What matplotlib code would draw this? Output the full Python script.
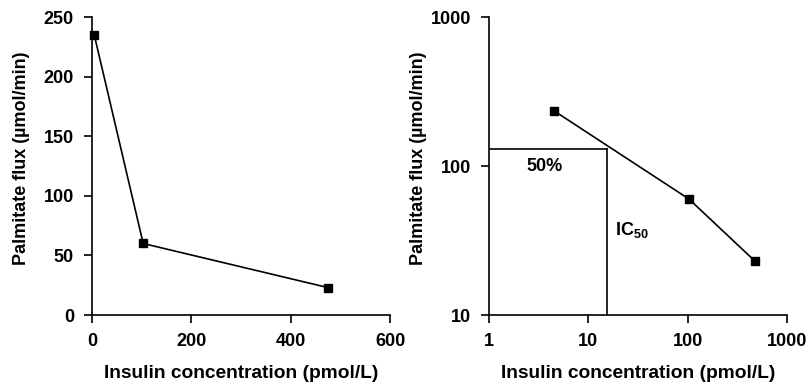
import numpy as np
import matplotlib.pyplot as plt
from matplotlib.ticker import NullLocator, FixedLocator, FixedFormatter

plt.rcParams["font.family"] = ["Liberation Sans", "DejaVu Sans"]
plt.rcParams["font.weight"] = "bold"
plt.rcParams["mathtext.fontset"] = "custom"
plt.rcParams["mathtext.rm"] = "Liberation Sans"
plt.rcParams["mathtext.bf"] = "Liberation Sans:bold"

insulin = [4.5, 103, 475]
flux = [235, 60, 23]
ic50_x = 15.4
half_flux = 130

fs = 13

fig = plt.figure(figsize=(8.1, 3.9), dpi=100)
ax1 = fig.add_axes([0.1136, 0.1923, 0.368, 0.764])
ax2 = fig.add_axes([0.6037, 0.1923, 0.368, 0.764])

for ax in (ax1, ax2):
    ax.spines["top"].set_visible(False)
    ax.spines["right"].set_visible(False)
    ax.spines["left"].set_linewidth(1.2)
    ax.spines["bottom"].set_linewidth(1.2)
    ax.tick_params(direction="out", length=6, width=1.2, labelsize=fs, pad=7)
    ax.plot(insulin, flux, color="black", lw=1.2, marker="s", ms=5.5, clip_on=False)
    ax.set_xlabel("Insulin concentration (pmol/L)", fontsize=13.8, fontweight="bold")
    ax.set_ylabel("Palmitate flux (\u00b5mol/min)", fontsize=fs, fontweight="bold")
    ax.xaxis.label.set_va("center")
    ax.yaxis.label.set_va("center")
    ax.xaxis.set_label_coords(0.5, -0.195)
    ax.yaxis.set_label_coords(-0.235, 0.527)

ax1.set_xlim(0, 600)
ax1.set_ylim(0, 250)
ax1.set_xticks([0, 200, 400, 600])
ax1.set_yticks([0, 50, 100, 150, 200, 250])

ax2.set_xscale("log")
ax2.set_yscale("log")
ax2.set_xlim(1, 1000)
ax2.set_ylim(10, 1000)
ax2.xaxis.set_major_locator(FixedLocator([1, 10, 100, 1000]))
ax2.xaxis.set_major_formatter(FixedFormatter(["1", "10", "100", "1000"]))
ax2.yaxis.set_major_locator(FixedLocator([10, 100, 1000]))
ax2.yaxis.set_major_formatter(FixedFormatter(["10", "100", "1000"]))
ax2.xaxis.set_minor_locator(NullLocator())
ax2.yaxis.set_minor_locator(NullLocator())

for ax in (ax1, ax2):
    for lab in ax.get_xticklabels() + ax.get_yticklabels():
        lab.set_fontweight("bold")

ax2.plot([1, ic50_x], [half_flux, half_flux], color="black", lw=1.2)
ax2.plot([ic50_x, ic50_x], [10, half_flux], color="black", lw=1.2)
ax2.text(3.66, 100, "50%", fontsize=fs, fontweight="bold", ha="center", va="center")
ax2.text(18.5, 37, "IC$_{\\mathrm{50}}$", fontsize=fs, fontweight="bold", ha="left", va="center")

fig.savefig("out.png", dpi=100)
